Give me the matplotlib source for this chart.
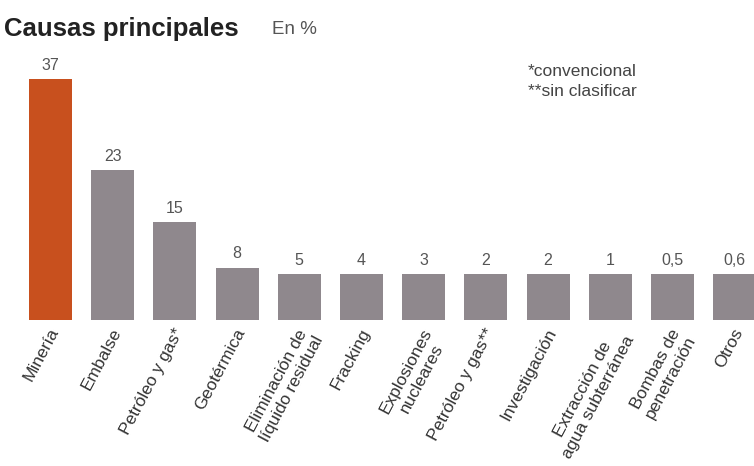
import matplotlib.pyplot as plt
import matplotlib.transforms as mtransforms
import numpy as np

plt.rcParams['font.family'] = ['Liberation Sans', 'DejaVu Sans']

causas = ["Minería", "Embalse", "Petróleo y gas*", "Geotérmica",
          "Eliminación de\nlíquido residual", "Fracking",
          "Explosiones\nnucleares", "Petróleo y gas**", "Investigación",
          "Extracción de\nagua subterránea", "Bombas de\npenetración", "Otros"]
valores = [37, 23, 15, 8, 5, 4, 3, 2, 2, 1, 0.5, 0.6]
etiquetas = ["37", "23", "15", "8", "5", "4", "3", "2", "2", "1", "0,5", "0,6"]

naranja = '#c8501e'
gris = '#8f888d'

# the small bars all get a minimum visible height in the original
alturas = np.maximum(valores, 7)
colores = [naranja] + [gris] * (len(valores) - 1)

fig = plt.figure(figsize=(7.54, 4.66), dpi=100)
ax = fig.add_axes([0, 146 / 466, 1, 320 / 466])
x = np.arange(len(valores))
ax.bar(x, alturas, width=0.69, color=colores)
ax.set_xlim(-0.812, 11.31)
ax.set_ylim(0, 49.2)

for i in range(len(valores)):
    ax.text(x[i], alturas[i] + 1.0, etiquetas[i], ha='center', va='bottom',
            fontsize=11.5, color='#555555')

ax.set_xticks(x)
ax.set_xticklabels(causas, rotation=62, ha='right', va='top',
                   rotation_mode='anchor', multialignment='center',
                   fontsize=12.5, color='#333333')
ax.tick_params(axis='x', length=0, pad=4)
desplaza = mtransforms.ScaledTranslation(-2 / 100, 0, fig.dpi_scale_trans)
for lab in ax.get_xticklabels():
    lab.set_transform(lab.get_transform() + desplaza)
ax.set_yticks([])
for s in ax.spines.values():
    s.set_visible(False)

fig.text(4 / 754, 1 - 29 / 466, "Causas principales", fontsize=18.5,
         fontweight='bold', color='#222222', va='center', ha='left')
fig.text(272 / 754, 1 - 29 / 466, "En %", fontsize=13.5, color='#555555',
         va='center', ha='left')
fig.text(528 / 754, 1 - 72 / 466, "*convencional", fontsize=12.5,
         color='#444444', va='center', ha='left')
fig.text(528 / 754, 1 - 91 / 466, "**sin clasificar", fontsize=12.5,
         color='#444444', va='center', ha='left')

plt.savefig('out.png', dpi=100)
